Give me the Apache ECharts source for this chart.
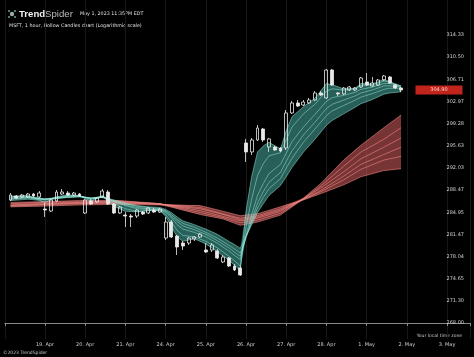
<!DOCTYPE html>
<html><head><meta charset="utf-8">
<script src="https://cdn.jsdelivr.net/npm/echarts@6/dist/echarts.min.js"></script>
<style>html,body{margin:0;padding:0;background:#000;}#c{width:474px;height:357px;}</style>
</head><body><div id="c"></div>
<script>
// ---- data ----
const dayLabels = ['19. Apr','20. Apr','21. Apr','24. Apr','25. Apr','26. Apr','27. Apr','28. Apr','1. May','2. May','3. May'];
const yTickLabels = ['268.00','271.30','274.65','278.04','281.47','284.95','288.47','292.03','295.63','299.28','302.97','306.71','310.50','314.33'];
const firstBar = 1; // hourly bars, 7 per session
// [open, high, low, close]
const ohlc = [
[286.89,288.00,286.73,287.68],[287.52,287.68,287.05,287.20],[287.36,287.84,287.20,287.68],[287.36,288.00,287.20,287.84],
[287.84,288.00,287.36,287.52],[287.36,288.32,287.20,288.00],
[285.46,286.41,284.20,285.30],[285.14,287.05,284.98,286.89],[286.73,288.48,286.57,288.16],[287.84,288.64,287.68,288.16],
[288.00,288.32,287.52,287.68],[287.68,288.16,287.52,288.00],[287.84,288.00,287.36,287.52],
[284.83,287.05,284.67,286.89],[286.73,287.05,286.09,286.25],[286.57,287.36,286.41,287.20],[287.36,288.64,287.20,288.32],
[288.16,288.48,286.09,286.25],[286.25,286.41,284.67,284.83],[284.83,285.93,284.67,285.77],
[284.51,284.98,282.63,284.35],[284.35,284.67,282.63,284.20],[284.35,285.46,284.04,285.30],[284.98,285.14,284.51,284.67],
[284.83,285.77,284.67,285.62],[285.30,285.62,284.83,284.98],[284.98,285.62,284.83,285.46],
[280.91,284.20,280.60,283.41],[283.41,283.73,280.91,281.07],[281.22,281.38,278.28,279.52],[280.14,280.45,279.06,279.67],
[280.14,281.07,279.83,280.91],[280.76,281.22,280.45,281.07],[281.07,281.69,280.91,281.53],
[279.06,280.14,278.59,278.75],[279.06,280.14,278.75,279.83],[278.90,279.21,277.67,277.82],[277.21,278.28,277.05,277.97],
[277.82,277.97,276.44,276.59],[276.59,276.90,275.83,275.98],[276.29,276.59,275.07,275.22],
[296.09,296.75,292.99,294.62],[294.62,296.91,294.13,296.58],[296.58,299.05,296.42,298.55],[298.39,298.55,296.26,296.58],
[295.43,296.91,294.62,296.75],[295.43,295.60,294.78,294.94],[295.27,295.43,294.62,294.78],
[295.27,301.55,294.94,301.05],[301.05,303.05,300.88,302.72],[302.72,303.22,302.05,302.21],[302.38,303.22,302.21,302.88],
[302.72,303.56,302.55,303.22],[303.22,304.73,303.05,304.40],[304.40,304.73,303.89,304.06],
[303.56,308.47,303.39,308.30],[308.30,308.47,305.58,305.75],[304.40,304.56,303.89,304.23],[304.23,305.41,304.06,305.24],
[304.90,305.58,304.73,305.41],[304.90,305.41,304.73,305.24],[305.41,307.11,305.24,306.94],
[306.26,307.79,305.58,305.75],[305.58,307.11,305.41,306.09],[305.75,306.77,305.58,306.60],[306.60,307.45,306.43,307.28],
[307.11,307.28,305.92,306.09],[305.75,305.92,305.07,305.24],[305.24,305.41,304.56,304.90]
];
// short-term ribbon (bar index of each reading)
const shortIdx = [1,4,7,9,11,13,15,17,19,21,23,25,27,28,29,30,31,33,35,37,39,40,41,42,43,44,45,46,48,49,50,52,54,56,57,59,61,62,64,66,67,69];
const ema3  = [287.5,287.6,286.5,287.4,287.7,287.6,286.7,287.6,285.9,285.1,285.0,285.2,285.3,284.3,282.7,281.1,280.4,280.8,280.0,278.8,277.5,276.7,275.9,285.1,290.7,294.6,295.6,296.2,295.1,298.1,300.4,302.1,303.5,306.0,305.8,305.1,305.2,306.0,305.9,306.7,306.3,305.3];
const ema5  = [287.4,287.5,286.9,287.3,287.6,287.6,287.0,287.5,286.3,285.5,285.1,285.2,285.2,284.6,283.4,282.1,281.3,281.1,280.4,279.4,278.1,277.4,276.6,282.6,287.1,290.8,292.7,294.0,294.5,296.6,298.7,300.9,302.5,304.7,305.1,304.9,305.1,305.7,305.8,306.4,306.3,305.6];
const ema8  = [287.3,287.4,287.0,287.2,287.5,287.5,287.1,287.4,286.6,286.0,285.5,285.4,285.3,284.9,284.1,283.0,282.3,281.8,281.1,280.1,278.9,278.2,277.6,281.3,284.6,287.6,289.5,291.1,292.6,294.4,296.3,298.7,300.8,303.0,303.6,304.0,304.5,305.0,305.4,306.0,306.0,305.6];
const ema10 = [287.1,287.3,287.1,287.2,287.4,287.5,287.2,287.4,286.7,286.1,285.7,285.5,285.4,285.1,284.3,283.5,282.8,282.2,281.5,280.5,279.4,278.7,278.1,281.0,283.8,286.4,288.2,289.7,291.3,293.1,294.8,297.4,299.5,301.8,302.5,303.2,303.9,304.4,304.9,305.6,305.6,305.4];
const ema12 = [287.0,287.2,287.0,287.2,287.3,287.4,287.2,287.3,286.8,286.3,285.9,285.7,285.5,285.2,284.6,283.8,283.2,282.6,281.8,280.9,279.8,279.2,278.6,281.0,283.4,285.6,287.3,288.7,290.3,292.0,293.6,296.2,298.4,300.6,301.4,302.3,303.2,303.7,304.3,305.0,305.2,305.2];
const ema15 = [286.8,287.0,287.0,287.1,287.3,287.4,287.2,287.3,286.9,286.4,286.0,285.8,285.7,285.4,284.9,284.2,283.6,283.0,282.3,281.5,280.4,279.9,279.3,281.2,283.0,284.9,286.3,287.6,289.2,290.6,292.1,294.6,296.7,299.0,299.8,300.9,302.0,302.6,303.3,304.2,304.4,304.6];
// long-term ribbon
const longIdx = [1,6,13,20,27,34,38,41,44,48,52,55,59,62,66,69];
const ema30 = [286.5,286.6,286.8,286.8,286.3,284.6,283.9,282.9,283.4,284.5,287.2,289.5,293.3,295.7,298.6,300.7];
const ema35 = [286.3,286.5,286.6,286.7,286.3,284.9,284.1,283.3,283.7,284.8,287.1,289.1,292.3,294.6,296.7,298.6];
const ema40 = [286.1,286.3,286.5,286.6,286.3,285.2,284.3,283.6,284.0,285.1,287.1,288.8,291.4,293.5,295.4,296.9];
const ema45 = [286.0,286.2,286.4,286.5,286.2,285.5,284.6,283.8,284.2,285.3,287.0,288.4,290.7,292.6,294.2,295.4];
const ema50 = [285.9,286.1,286.3,286.4,286.2,285.7,284.7,284.0,284.4,285.5,287.0,288.2,290.1,291.8,293.3,293.9];
const ema60 = [285.8,285.9,286.1,286.2,286.1,286.0,285.1,284.4,284.7,285.8,286.9,287.9,289.3,290.6,291.6,291.9];

// ---- log scale helpers (axis works in steps between the labelled ticks) ----
const p0 = parseFloat(yTickLabels[0]);
const pN = parseFloat(yTickLabels[yTickLabels.length - 1]);
const lnStep = Math.log(pN / p0) / (yTickLabels.length - 1);
const u = p => Math.log(p / p0) / lnStep;

function ribbon(xs, lines, fill, lineColor) {
  const U = lines.map(l => l.map(u));
  const lo = xs.map((x, i) => Math.min(...U.map(l => l[i])));
  const hi = xs.map((x, i) => Math.max(...U.map(l => l[i])));
  const out = [{
    type:'custom', silent:true, z:1, clip:true,
    data:[[xs[0], lo[0]]],
    renderItem:(params, api) => {
      const top = xs.map((x, i) => api.coord([x, hi[i]]));
      const bot = xs.map((x, i) => api.coord([x, lo[i]])).reverse();
      return {type:'polygon', shape:{points: top.concat(bot)}, style:{fill: fill}};
    }
  }];
  U.forEach(l => out.push({type:'line', data: xs.map((x,i)=>[x, l[i]]), symbol:'none',
    lineStyle:{color:lineColor, width:0.6}, silent:true, z:2}));
  return out;
}

const candles = ohlc.map((d, i) => [firstBar + i, u(d[0]), u(d[3]), u(d[2]), u(d[1])]);
const lastClose = ohlc[ohlc.length - 1][3];

const chart = echarts.init(document.getElementById('c'), null, {renderer:'canvas'});
chart.setOption({
  backgroundColor:'#000',
  animation:false,
  grid:{left:4.8, right:4, top:0, bottom:18},
  xAxis:{type:'value', min:0, max:81, interval:7,
    axisLine:{lineStyle:{color:'#8a8a8a', width:1}},
    axisTick:{show:true, length:3, lineStyle:{color:'#8a8a8a'}},
    axisLabel:{color:'#cfcfcf', fontSize:5, margin:3, fontFamily:'DejaVu Sans',
      formatter: v => (v >= 7 && v % 7 === 0 && v / 7 - 1 < dayLabels.length) ? dayLabels[v / 7 - 1] : ''},
    splitLine:{show:true, lineStyle:{color:'#171717', width:1}}},
  yAxis:{type:'value', position:'right', min:-0.7222, max:14.58, splitNumber:15,
    axisLine:{show:false}, axisTick:{show:false}, splitLine:{show:false},
    axisLabel:{inside:true, color:'#d0d0d0', fontSize:5, margin:6, fontFamily:'DejaVu Sans',
      formatter: v => { const k = Math.round(v); return (Math.abs(v-k) < 1e-6 && k >= 0 && k < yTickLabels.length) ? yTickLabels[k] : ''; }}},
  series:[
    ...ribbon(longIdx, [ema30,ema35,ema40,ema45,ema50,ema60], 'rgba(215,95,95,0.55)', 'rgba(250,140,135,0.95)'),
    ...ribbon(shortIdx, [ema3,ema5,ema8,ema10,ema12,ema15], 'rgba(80,190,175,0.5)', 'rgba(150,235,220,0.85)'),
    {type:'candlestick', data:candles, encode:{x:0, y:[1,2,3,4]}, barWidth:3.4, z:5,
      itemStyle:{color:'rgba(0,0,0,0)', color0:'#e8e8e8', borderColor:'#e8e8e8', borderColor0:'#e8e8e8', borderWidth:0.8},
      markPoint:{symbol:'rect', symbolSize:[47,9], silent:true,
        itemStyle:{color:'#c0241b'},
        label:{show:true, position:'inside', color:'#ffd0c8', fontSize:5, fontFamily:'DejaVu Sans', formatter: lastClose.toFixed(2)},
        data:[{coord:[75.6, u(lastClose)]}]}}
  ],
  graphic:[
    {type:'circle', shape:{cx:12, cy:14, r:2.2}, style:{fill:'#9aa'}},
    {type:'circle', shape:{cx:9, cy:11, r:1}, style:{fill:'#6a8'}},
    {type:'circle', shape:{cx:15, cy:11, r:1}, style:{fill:'#6a8'}},
    {type:'circle', shape:{cx:9, cy:17, r:1}, style:{fill:'#6a8'}},
    {type:'circle', shape:{cx:15, cy:17, r:1}, style:{fill:'#6a8'}},
    {type:'text', left:19, top:9, style:{text:'{a|Trend}{b|Spider}', rich:{a:{fontSize:9.6, fontWeight:'bold', fill:'#f2f2f2', fontFamily:'Liberation Sans'}, b:{fontSize:9.6, fill:'#bdbdbd', fontFamily:'Liberation Sans'}}}},
    {type:'text', left:80, top:11.5, style:{text:'May 1, 2023 11:35PM EDT', fontSize:4.8, fill:'#e0e0e0', fontFamily:'DejaVu Sans'}},
    {type:'text', left:9, top:23.5, style:{text:'MSFT, 1 hour, Hollow Candles chart (Logarithmic scale)', fontSize:4.8, fill:'#e0e0e0', fontFamily:'DejaVu Sans'}},
    {type:'text', right:12, top:333, style:{text:'Your local time zone', fontSize:4.5, fill:'#c8c8c8', fontFamily:'DejaVu Sans'}},
    {type:'text', left:3, top:350, style:{text:'©2023 TrendSpider', fontSize:4.5, fill:'#c8c8c8', fontFamily:'DejaVu Sans'}}
  ]
});
</script></body></html>
